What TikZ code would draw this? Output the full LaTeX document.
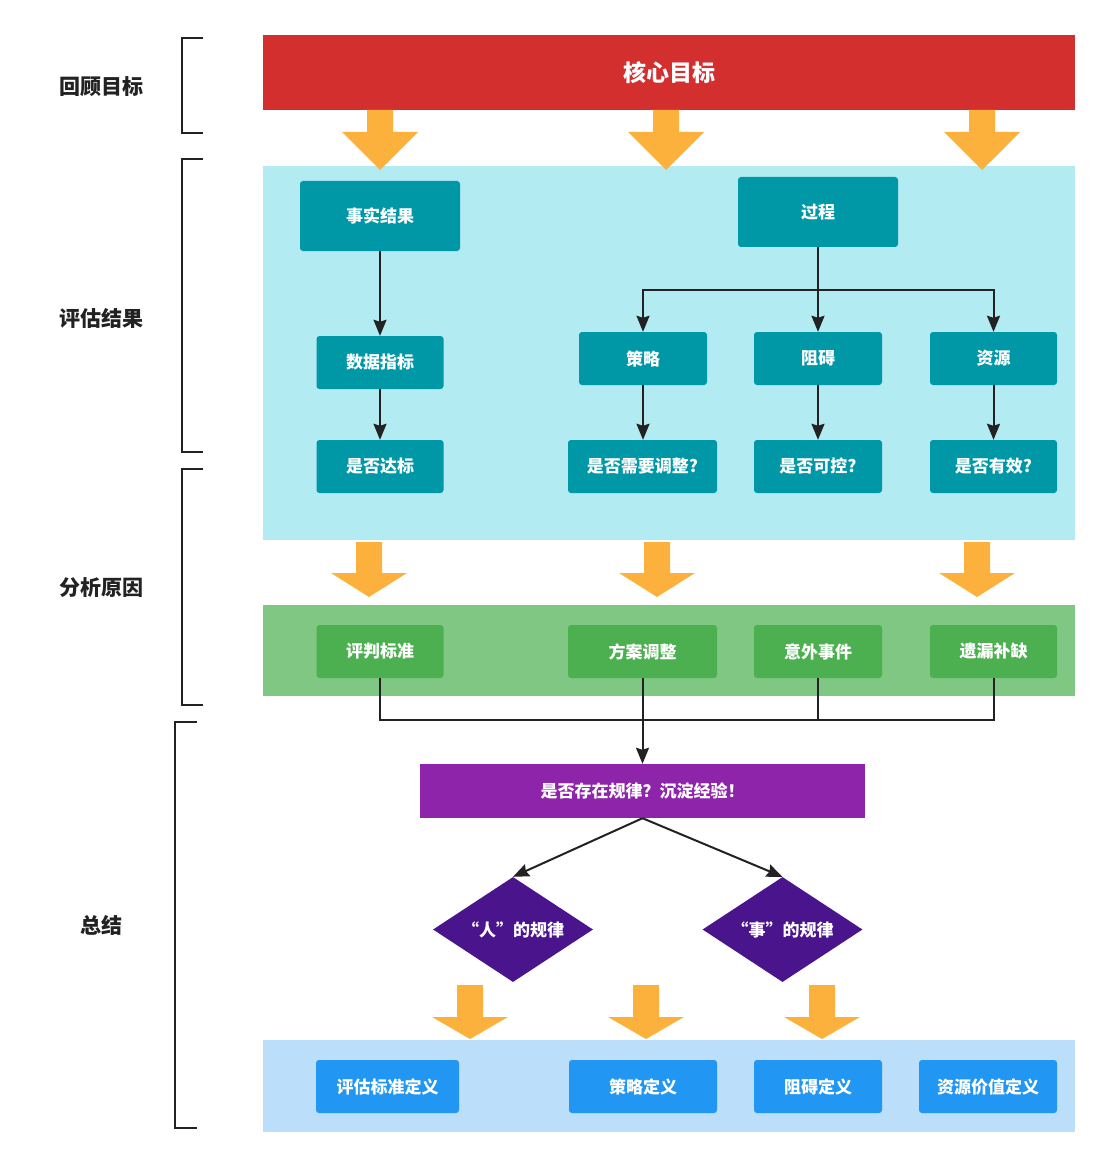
\documentclass[tikz,border=0pt]{standalone}
\usepackage{fontspec}
\setmainfont{Noto Sans CJK SC}
\usetikzlibrary{arrows.meta,shapes.geometric}
\definecolor{ink}{HTML}{222222}
\definecolor{goalred}{HTML}{D32F2F}
\definecolor{fatorange}{HTML}{FDB13D}
\definecolor{evalbg}{HTML}{B2EBF2}
\definecolor{evalbox}{HTML}{0097A7}
\definecolor{causebg}{HTML}{81C784}
\definecolor{causebox}{HTML}{4CAF50}
\definecolor{rulebox}{HTML}{8E24AA}
\definecolor{lawbox}{HTML}{4A148C}
\definecolor{defbg}{HTML}{BBDEFB}
\definecolor{defbox}{HTML}{2196F3}
\begin{document}
\begin{tikzpicture}[x=1pt,y=-1pt]
\tikzset{
    panel/.style={inner sep=0pt, minimum width=812pt},
    box/.style={rounded corners=3pt, inner sep=0pt, text=white, minimum height=53pt,
        font=\bfseries\fontsize{17}{19}\selectfont},
    law/.style={diamond, aspect=1.5, inner sep=0pt, fill=lawbox, text=white,
        minimum width=160pt, minimum height=105pt, font=\bfseries\fontsize{17}{19}\selectfont},
    stage/.style={text=ink, font=\bfseries\fontsize{21}{23}\selectfont},
    brace/.style={draw=ink, line width=2pt},
    line/.style={draw=ink, line width=2pt},
    link/.style={line, -{Stealth[length=16pt,width=13pt,inset=2pt]}},
    fat/.style={fill=fatorange},
}
% A fat arrow: centre x, top y, shaft length, head length.
\def\Fat(#1,#2,#3,#4){\fill[fat] (#1,#2) ++(-13,0) -- ++(0,#3) -- ++(-25,0) -- ++(38,#4) -- ++(38,-#4) -- ++(-25,0) -- ++(0,-#3) -- cycle;}

\fill[white] (0,0) rectangle (1108,1166);
\useasboundingbox (0,0) rectangle (1108,1166);

% Stages on the left, each with its bracket.
\node[stage] (s1) at (101,87) {回顾目标};
\node[stage] (s2) at (101,318) {评估结果};
\node[stage] (s3) at (101,588) {分析原因};
\node[stage] (s4) at (101,925) {总结};
\draw[brace] (203,38) -| (182,133) -- (203,133);
\draw[brace] (203,159) -| (182,452) -- (203,452);
\draw[brace] (203,469) -| (182,705) -- (203,705);
\draw[brace] (197,722) -| (175,1128) -- (197,1128);

% The goal bar and the coloured panels.
\node[panel, fill=goalred, minimum height=75pt, text=white,
    font=\bfseries\fontsize{23}{25}\selectfont] (goal) at (669,72.5) {核心目标};
\node[panel, fill=evalbg, minimum height=374pt] (evalp) at (669,353) {};
\node[panel, fill=causebg, minimum height=91pt] (causep) at (669,650.5) {};
\node[panel, fill=defbg, minimum height=92pt] (defp) at (669,1086) {};

% Fat arrows between the panels.
\Fat(380,110,22,38) \Fat(666,110,22,38) \Fat(982,110,22,38)
\Fat(369,542,31,24) \Fat(657,542,31,24) \Fat(977,542,31,24)
\Fat(470,985,32,22) \Fat(646,985,32,22) \Fat(822,985,32,22)

% Results: facts on the left, process on the right.
\node[box, fill=evalbox, minimum width=160pt, minimum height=70pt] (fact) at (380,216) {事实结果};
\node[box, fill=evalbox, minimum width=160pt, minimum height=70pt] (proc) at (818,212) {过程};
\node[box, fill=evalbox, minimum width=127pt] (data) at (380,362.5) {数据指标};
\node[box, fill=evalbox, minimum width=127pt] (reach) at (380,466.5) {是否达标};
\node[box, fill=evalbox, minimum width=128pt] (strat) at (643,358.5) {策略};
\node[box, fill=evalbox, minimum width=128pt] (block) at (818,358.5) {阻碍};
\node[box, fill=evalbox, minimum width=127pt] (res) at (993.5,358.5) {资源};
\node[box, fill=evalbox, minimum width=149pt] (adjust) at (642.5,466.5) {是否需要调整?};
\node[box, fill=evalbox, minimum width=128pt] (ctrl) at (818,466.5) {是否可控?};
\node[box, fill=evalbox, minimum width=127pt] (valid) at (993.5,466.5) {是否有效?};
\coordinate (fork) at (818,290);

\draw[link] (fact) -- (data);
\draw[link] (data) -- (reach);
\draw[link] (proc.south) -- (block.north);
\draw[link] (fork) -| (strat.north);
\draw[link] (fork) -| (res.north);
\draw[link] (strat) -- (strat |- adjust.north);
\draw[link] (block) -- (ctrl);
\draw[link] (res) -- (valid);

% Causes, joined into one line.
\node[box, fill=causebox, minimum width=127pt] (judge) at (380,651.5) {评判标准};
\node[box, fill=causebox, minimum width=149pt] (plan) at (642.5,651.5) {方案调整};
\node[box, fill=causebox, minimum width=128pt] (event) at (818,651.5) {意外事件};
\node[box, fill=causebox, minimum width=127pt] (fill) at (993.5,651.5) {遗漏补缺};
\coordinate (join) at (642.5,720);

\draw[line] (judge.south) |- (join) -| (fill.south);
\draw[line] (event.south) -- (event.south |- join);

% Summary: rules of people and of things.
\node[fill=rulebox, text=white, inner sep=0pt, minimum width=445pt, minimum height=54pt,
    font=\bfseries\fontsize{17}{19}\selectfont] (rule) at (642.5,791) {是否存在规律？沉淀经验！};
\node[law] (ren) at (513,929.5) {“人”的规律};
\node[law] (shi) at (782.5,929.5) {“事”的规律};

\draw[link] (plan.south) -- (rule.north);
\draw[link] (rule.south) -- (ren.north);
\draw[link] (rule.south) -- (shi.north);

% Definitions.
\node[box, fill=defbox, minimum width=143pt] (d1) at (387.5,1086.5) {评估标准定义};
\node[box, fill=defbox, minimum width=148pt] (d2) at (643,1086.5) {策略定义};
\node[box, fill=defbox, minimum width=128pt] (d3) at (818,1086.5) {阻碍定义};
\node[box, fill=defbox, minimum width=138pt] (d4) at (988,1086.5) {资源价值定义};
\end{tikzpicture}
\end{document}
